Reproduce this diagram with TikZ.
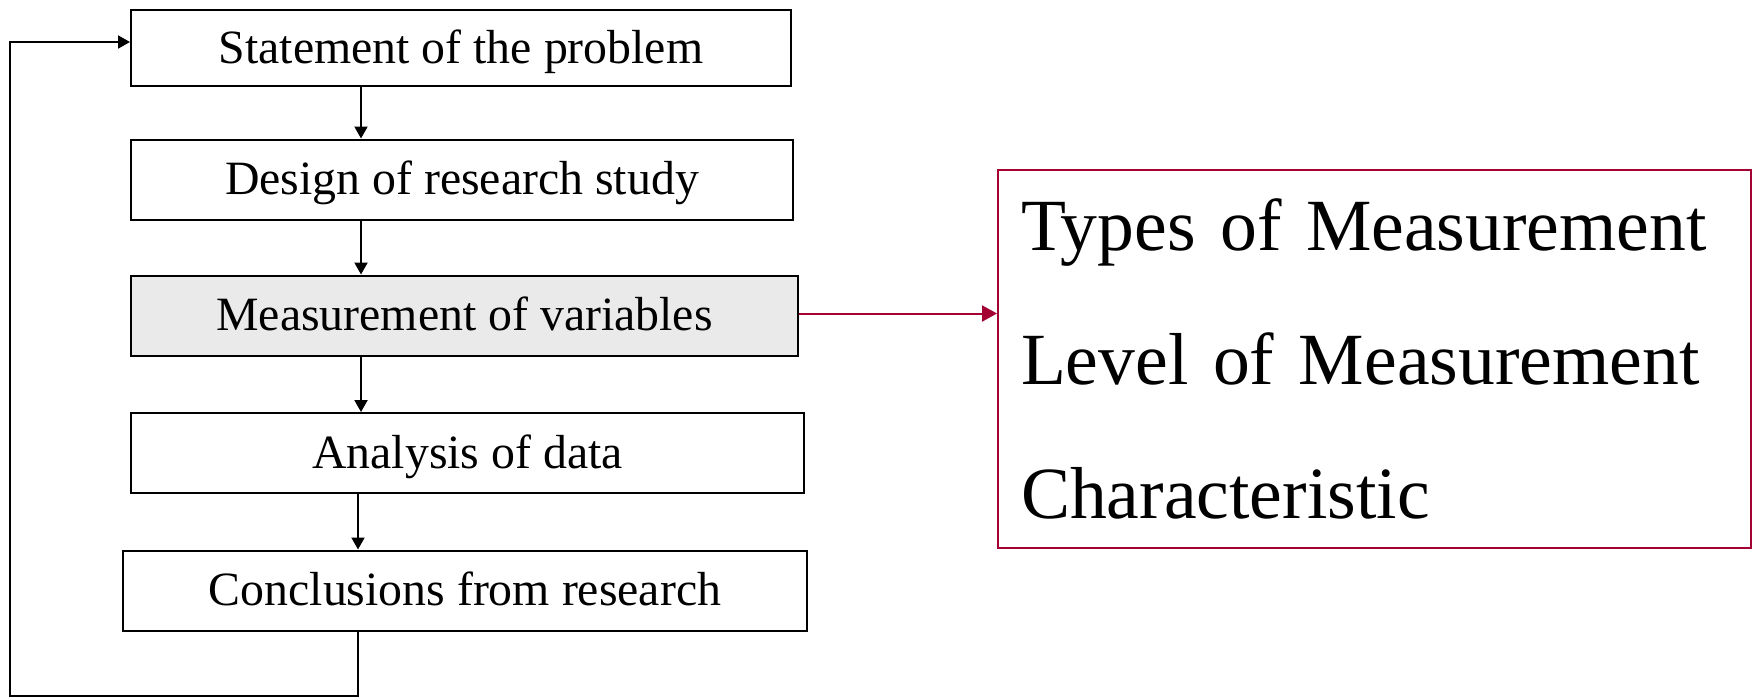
\documentclass[tikz,border=0pt]{standalone}
\usepackage{fontspec}
\setmainfont{Liberation Serif}
\usetikzlibrary{arrows.meta,positioning}
\definecolor{mvred}{RGB}{165,0,52}
\definecolor{mvgray}{RGB}{234,234,234}
\tikzstyle{arrow} = [line width=2pt,-{Triangle[length=12pt,width=13pt]},color=black]
\tikzstyle{redarrow} = [line width=2pt,-{Triangle[length=15pt,width=16pt]},color=mvred]
\tikzstyle{stepbox} = [rectangle, draw=black, line width=2pt, inner sep=0pt, minimum height=80pt, text height=40pt, text depth=10pt, text centered, font=\fontsize{47.8}{57}\selectfont]

\begin{document}
\begin{tikzpicture}[x=1pt, y=-1pt]
\useasboundingbox (0,0) rectangle (1756,697);
% Steps
\node[stepbox, minimum width=660pt, minimum height=76pt] (stmt) at (461,48) {Statement of the problem};
\node[stepbox, minimum width=662pt] (design) at (462,179.5) {Design of research study};
\node[stepbox, minimum width=667pt, fill=mvgray] (meas) at (464.5,315.5) {Measurement of variables};
\node[stepbox, minimum width=673pt] (anal) at (467.5,453) {Analysis of data};
\node[stepbox, minimum width=684pt] (concl) at (465,590.5) {Conclusions from research};

% Detail box
\node[rectangle, draw=mvred, line width=2pt, inner xsep=23pt, inner ysep=0pt, text width=707pt, minimum height=378pt, align=left, font=\fontsize{73.6}{134}\selectfont] (types) at (1374.5,359) {Types of Measurement\\Level of Measurement\\Characteristic};

% Arrows
\draw[arrow] ([xshift=-100pt]stmt.south) -- ([xshift=-101pt]design.north);
\draw[arrow] ([xshift=-101pt]design.south) -- ([xshift=-103.5pt]meas.north);
\draw[arrow] ([xshift=-103.5pt]meas.south) -- ([xshift=-106.5pt]anal.north);
\draw[arrow] ([xshift=-109.5pt]anal.south) -- ([xshift=-107pt]concl.north);
\draw[redarrow] ([yshift=2pt]meas.east) -- ([yshift=2pt]meas.east -| types.west);

% Feedback loop
\coordinate (loopbl) at (10,696);
\draw[arrow] ([xshift=-107pt]concl.south) |- (loopbl) |- ([yshift=6pt]stmt.west);
\end{tikzpicture}
\end{document}
